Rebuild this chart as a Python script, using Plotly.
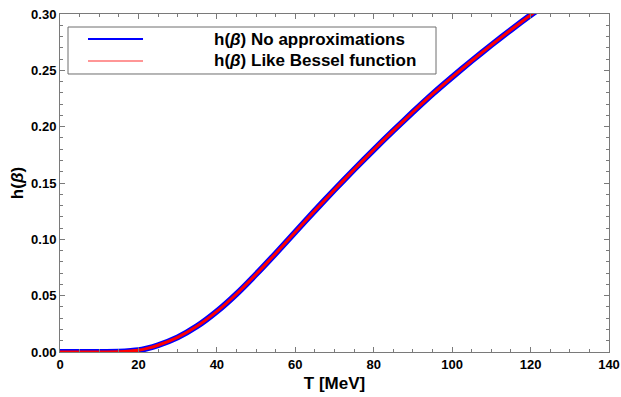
import plotly.graph_objects as go

# ---- data ----
T_MeV = [0, 5, 10, 15, 18, 20, 22, 25, 30, 35, 40, 45, 50, 55, 60, 65,
         70, 75, 80, 85, 90, 95, 100, 105, 110, 115, 120, 125]
h_no_approx = [0.0, 0.0, 0.0, 0.0002, 0.0008, 0.0015, 0.0030, 0.0060, 0.0130,
               0.0230, 0.0360, 0.0515, 0.0690, 0.0875, 0.1065, 0.1255, 0.1440,
               0.1620, 0.1795, 0.1965, 0.2130, 0.2290, 0.2440, 0.2585, 0.2725,
               0.2860, 0.2990, 0.3115]
h_bessel = [0.0, 0.0, 0.0, 0.0002, 0.0008, 0.0015, 0.0030, 0.0060, 0.0130,
            0.0230, 0.0360, 0.0515, 0.0690, 0.0875, 0.1065, 0.1255, 0.1440,
            0.1620, 0.1795, 0.1965, 0.2130, 0.2290, 0.2440, 0.2585, 0.2725,
            0.2860, 0.2990, 0.3115]

series_names = ["h(<i>β</i>) No approximations", "h(<i>β</i>) Like Bessel function"]
x_ticks = [0, 20, 40, 60, 80, 100, 120, 140]
y_ticks = [0.00, 0.05, 0.10, 0.15, 0.20, 0.25, 0.30]

FONT = "Liberation Sans, Arial, sans-serif"
AXIS_GRAY = "#7a7a7a"

fig = go.Figure()
fig.add_trace(go.Scatter(x=T_MeV, y=h_no_approx, mode="lines", name=series_names[0],
                         line=dict(color="#0000ff", width=6, shape="spline", smoothing=0.5),
                         showlegend=False))
fig.add_trace(go.Scatter(x=T_MeV, y=h_bessel, mode="lines", name=series_names[1],
                         line=dict(color="#ff0000", width=3, shape="spline", smoothing=0.5),
                         showlegend=False))

# ---- framed legend (drawn in paper coordinates) ----
legend_box = dict(x0=0.0146, x1=0.6849, y0=0.8225, y1=0.9615)
fig.add_shape(type="rect", xref="paper", yref="paper", **legend_box,
              line=dict(color="#6e6e6e", width=1), fillcolor="white", layer="above")
legend_rows = [0.926, 0.861]
legend_styles = [dict(color="#0000ff", width=2.2), dict(color="rgba(255,0,0,0.55)", width=1.6)]
for yy, style, name in zip(legend_rows, legend_styles, series_names):
    fig.add_shape(type="line", xref="paper", yref="paper", x0=0.051, x1=0.1512,
                  y0=yy, y1=yy, line=style, layer="above")
    fig.add_annotation(xref="paper", yref="paper", x=0.2769, y=yy, text=name,
                       showarrow=False, xanchor="left", yanchor="middle",
                       font=dict(family=FONT, size=17, color="black", weight="bold"))

axis_common = dict(showline=True, linecolor=AXIS_GRAY, linewidth=1, mirror="allticks",
                   ticks="inside", ticklen=5, tickwidth=1, tickcolor=AXIS_GRAY,
                   showgrid=False, zeroline=False, automargin=False,
                   ticklabeloverflow="allow",
                   tickfont=dict(family=FONT, size=13, color="black", weight="bold"))

fig.update_xaxes(range=[0, 140], tickvals=x_ticks, ticktext=[str(v) for v in x_ticks],
                 minor=dict(dtick=5, ticks="inside", ticklen=3, tickcolor=AXIS_GRAY, showgrid=False),
                 title=dict(text="T [MeV]", font=dict(family=FONT, size=17, color="black", weight="bold"),
                            standoff=6),
                 **axis_common)
fig.update_yaxes(range=[0, 0.30], tickvals=y_ticks, ticktext=[f"{v:.2f}" for v in y_ticks],
                 minor=dict(dtick=0.01, ticks="inside", ticklen=3, tickcolor=AXIS_GRAY, showgrid=False),
                 title=dict(text="h(<i>β</i>)", font=dict(family=FONT, size=17, color="black", weight="bold"),
                            standoff=3),
                 **axis_common)

fig.update_layout(width=621, height=397, margin=dict(l=60, r=12, t=14, b=45),
                  paper_bgcolor="white", plot_bgcolor="white",
                  font=dict(family=FONT, color="black"))

# remove the default 8px page margin so the figure fills the window exactly
fig.write_html("out.html", config={"displayModeBar": False},
               post_script="document.body.style.margin='0px';")
